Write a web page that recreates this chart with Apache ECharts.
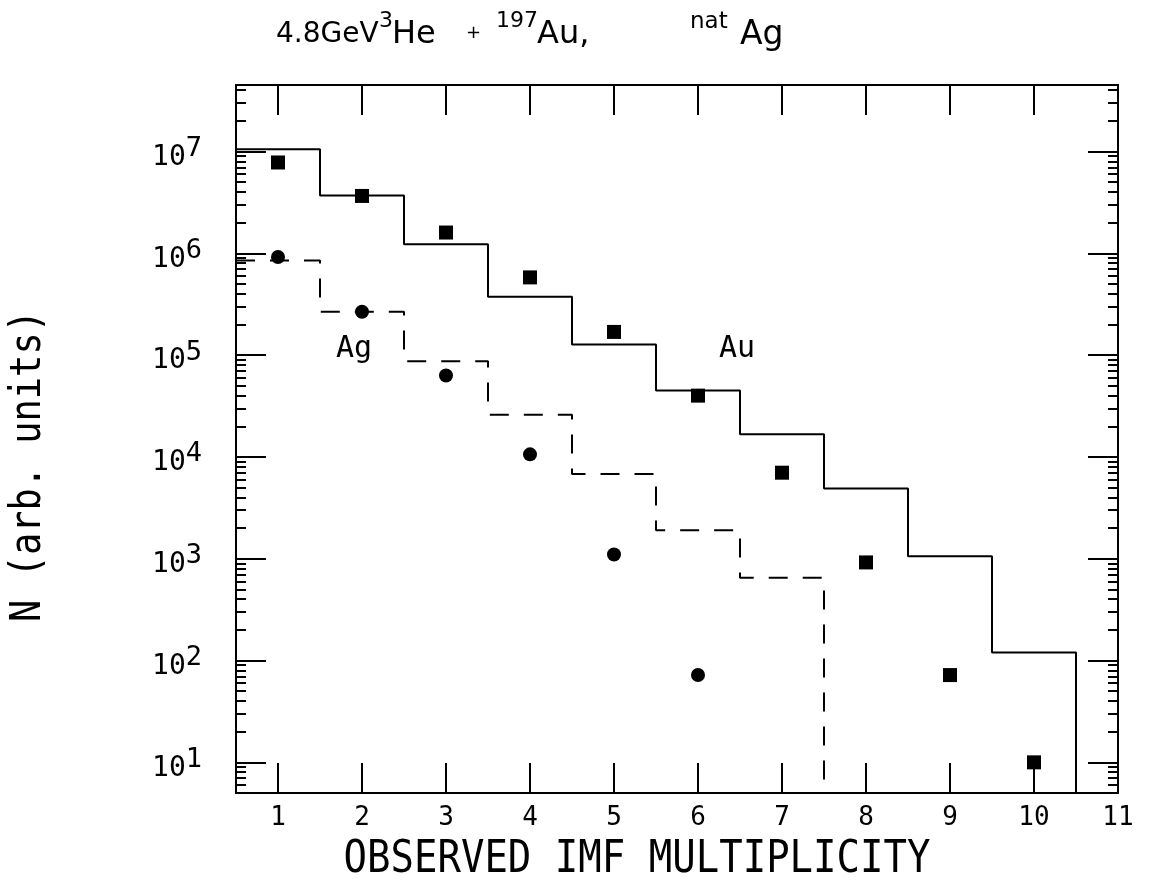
<!DOCTYPE html>
<html>
<head>
<meta charset="utf-8">
<script src="https://cdn.jsdelivr.net/npm/echarts@6/dist/echarts.min.js"></script>
<style>
  html, body { margin: 0; background: #fff; }
  #chart { width: 1163px; height: 882px; }
</style>
</head>
<body>
<div id="chart"></div>
<script>
// observed IMF multiplicity (bin centres)
const multiplicity = [1, 2, 3, 4, 5, 6, 7, 8, 9, 10];
// measured points
const auMeasured = [7.8e6, 3.66e6, 1.6e6, 5.8e5, 1.69e5, 4.0e4, 7.0e3, 9.2e2, 72, 10];
const agMeasured = [9.2e5, 2.67e5, 6.3e4, 1.06e4, 1.1e3, 72];
// calculated histograms
const auCalc = [1.05e7, 3.7e6, 1.23e6, 3.75e5, 1.27e5, 4.5e4, 1.67e4, 4.9e3, 1.06e3, 1.2e2];
const agCalc = [8.5e5, 2.67e5, 8.7e4, 2.6e4, 6.8e3, 1.9e3, 6.5e2];
// axis ticks
const xTicks = [1, 2, 3, 4, 5, 6, 7, 8, 9, 10, 11];
const yDecades = [1e1, 1e2, 1e3, 1e4, 1e5, 1e6, 1e7];
const yMinor = [];
[1e0, 1e1, 1e2, 1e3, 1e4, 1e5, 1e6, 1e7].forEach(d => {
  for (let k = 2; k <= 9; k++) yMinor.push(k * d);
});

const X_MIN = 0.5, X_MAX = 11;
const Y_MIN = 5, Y_MAX = 4.5e7;
const mono = 'DejaVu Sans Mono';
const sans = 'DejaVu Sans';

// step outline of a histogram, dropping to the axis floor at the end
function stepPoints(vals) {
  const pts = [];
  vals.forEach((v, i) => {
    pts.push([multiplicity[i] - 0.5, v], [multiplicity[i] + 0.5, v]);
  });
  pts.push([multiplicity[vals.length - 1] + 0.5, Y_MIN]);
  return pts;
}

const frame = { show: true, onZero: false, lineStyle: { color: '#000', width: 2 } };

function xAx(pos, labels) {
  return {
    type: 'value', min: X_MIN, max: X_MAX, position: pos,
    axisLine: frame,
    axisTick: { inside: true, length: 30, customValues: xTicks, lineStyle: { color: '#000', width: 2 } },
    axisLabel: labels
      ? { customValues: xTicks, color: '#000', fontFamily: mono, fontSize: 26, margin: 12 }
      : { show: false },
    splitLine: { show: false }
  };
}

function yAx(pos, major, labels) {
  return {
    type: 'log', min: Y_MIN, max: Y_MAX, position: pos,
    axisLine: major ? frame : { show: false },
    axisTick: {
      inside: true, length: major ? 30 : 10,
      customValues: major ? yDecades : yMinor,
      lineStyle: { color: '#000', width: 2 }
    },
    axisLabel: labels ? {
      customValues: yDecades, margin: 34, padding: [12, 0, 0, 0],
      formatter: v => '{b|10}{e|' + Math.round(Math.log10(v)) + '}',
      rich: {
        b: { fontFamily: mono, fontSize: 28, lineHeight: 44, color: '#000' },
        e: { fontFamily: mono, fontSize: 27, lineHeight: 20, color: '#000', verticalAlign: 'top' }
      }
    } : { show: false },
    splitLine: { show: false },
    minorTick: { show: false }
  };
}

function txt(text, x, y, size, font, align, extra) {
  return Object.assign({
    type: 'text', x: x, y: y,
    style: { text: text, fontFamily: font || sans, fontSize: size, fill: '#000', align: align || 'left', verticalAlign: 'middle' }
  }, extra || {});
}

const chart = echarts.init(document.getElementById('chart'));
chart.setOption({
  backgroundColor: '#fff',
  animation: false,
  grid: { left: 236, right: 45, top: 85, bottom: 89 },
  xAxis: [xAx('bottom', true), xAx('top', false)],
  yAxis: [yAx('left', true, true), yAx('left', false, false), yAx('right', true, false), yAx('right', false, false)],
  graphic: [
    txt('4.8GeV', 276, 35, 28),
    txt('3', 379, 21, 22),
    txt('He', 392, 35, 32),
    txt('+', 466, 33, 18),
    txt('197', 496, 21, 22),
    txt('Au,', 537, 35, 32),
    txt('nat', 690, 22, 23),
    txt('Ag', 740, 35, 33),
    txt('OBSERVED IMF MULTIPLICITY', 637, 861, 39, mono, 'center', { scaleY: 1.12 }),
    txt('N (arb. units)', 29, 466, 37, mono, 'center', { rotation: Math.PI / 2, scaleY: 1.15 }),
    txt('Ag', 354, 349, 30, mono, 'center'),
    txt('Au', 737, 349, 30, mono, 'center')
  ],
  series: [
    {
      name: 'Au calc', type: 'line', data: stepPoints(auCalc),
      showSymbol: false, lineStyle: { color: '#000', width: 2 }
    },
    {
      name: 'Ag calc', type: 'line', data: stepPoints(agCalc),
      showSymbol: false, lineStyle: { color: '#000', width: 2, type: [19, 15] }
    },
    {
      name: 'Au', type: 'scatter', symbol: 'rect', symbolSize: 14,
      data: multiplicity.map((m, i) => [m, auMeasured[i]]),
      itemStyle: { color: '#000', opacity: 1 }
    },
    {
      name: 'Ag', type: 'scatter', symbol: 'circle', symbolSize: 14,
      data: agMeasured.map((v, i) => [multiplicity[i], v]),
      itemStyle: { color: '#000', opacity: 1 }
    }
  ]
});
</script>
</body>
</html>
